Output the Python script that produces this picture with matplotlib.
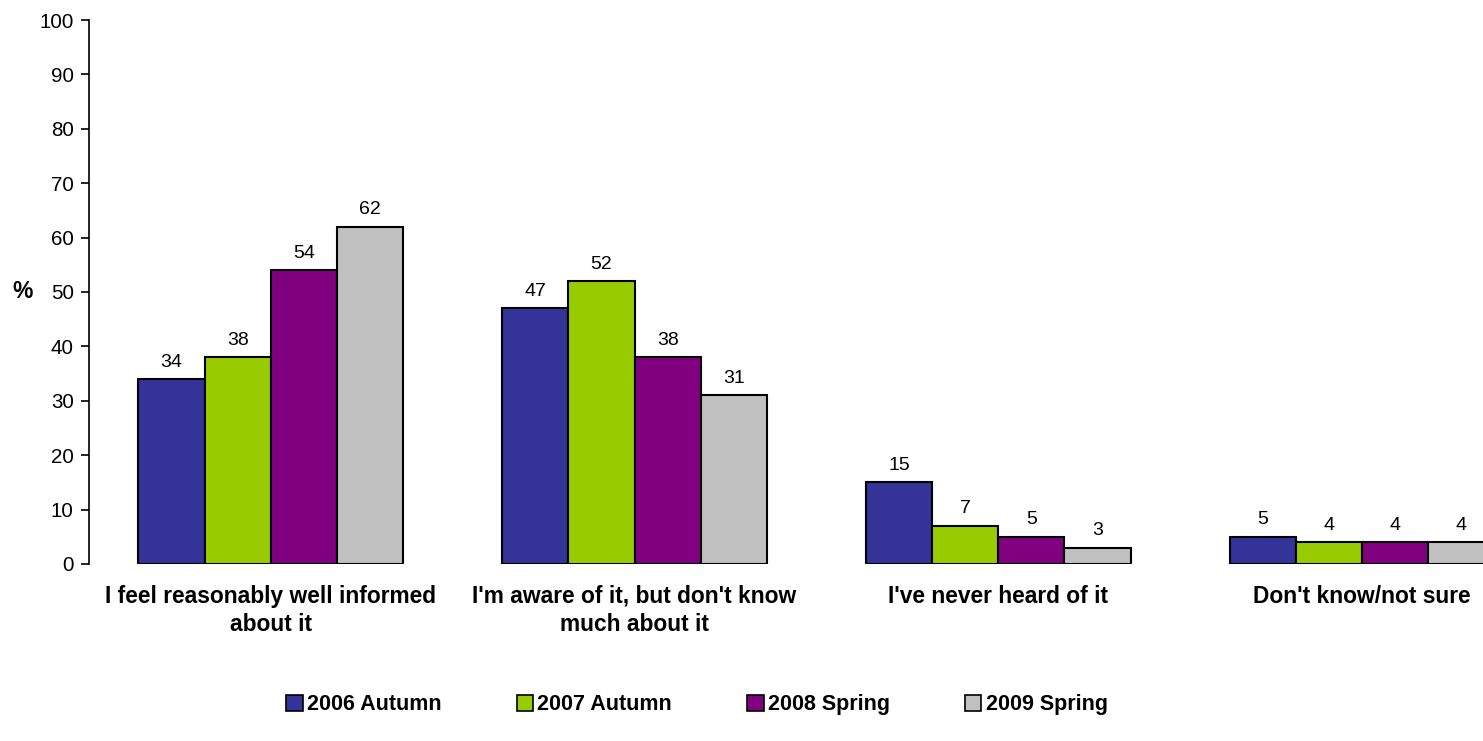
import numpy as np
import matplotlib.pyplot as plt
from matplotlib.patches import Patch

plt.rcParams['font.family'] = ['Liberation Sans', 'DejaVu Sans']

categories = ["I feel reasonably well informed\nabout it",
              "I'm aware of it, but don't know\nmuch about it",
              "I've never heard of it",
              "Don't know/not sure"]
series = ["2006 Autumn", "2007 Autumn", "2008 Spring", "2009 Spring"]
autumn_2006 = [34, 47, 15, 5]
autumn_2007 = [38, 52, 7, 4]
spring_2008 = [54, 38, 5, 4]
spring_2009 = [62, 31, 3, 4]
colors = ["#333399", "#99CC00", "#800080", "#C0C0C0"]

values = [autumn_2006, autumn_2007, spring_2008, spring_2009]

fig = plt.figure(figsize=(14.83, 7.41), dpi=100)
ax = fig.add_axes([0.060, 0.239, 0.940, 0.734])

x = np.arange(len(categories))
width = 0.182
for i, (name, vals) in enumerate(zip(series, values)):
    pos = x + (i - 1.5) * width
    bars = ax.bar(pos, vals, width, color=colors[i], edgecolor="black",
                  linewidth=1.5, label=name)
    for b, v in zip(bars, vals):
        ax.annotate(str(v), (b.get_x() + b.get_width() / 2, v),
                    xytext=(0, 6), textcoords="offset points",
                    ha="center", va="bottom", fontsize=14)

ax.set_xlim(-0.5, 3.333)
ax.set_ylim(0, 100)
ax.set_yticks(range(0, 101, 10))
ax.tick_params(axis="y", labelsize=14.8, length=6, width=1.2, pad=5)
ax.set_xticks(x)
ax.set_xticklabels(categories, fontsize=16.4, fontweight="bold",
                   linespacing=1.3)
ax.tick_params(axis="x", length=0, pad=15)
for s in ["top", "right", "bottom"]:
    ax.spines[s].set_visible(False)
ax.spines["left"].set_linewidth(1.2)

fig.text(0.015, 1 - 291 / 741, "%", fontsize=16.5, fontweight="bold",
         ha="center", va="center")

handles = [Patch(facecolor=c, edgecolor="black", linewidth=1.2) for c in colors]
fig.legend(handles, series, loc="center", bbox_to_anchor=(0.470, 0.049),
           ncol=4, frameon=False, prop={"size": 15.5, "weight": "bold"},
           handlelength=0.75, handleheight=0.75, handletextpad=0.2,
           columnspacing=3.5)

fig.savefig("out.png", dpi=100)
